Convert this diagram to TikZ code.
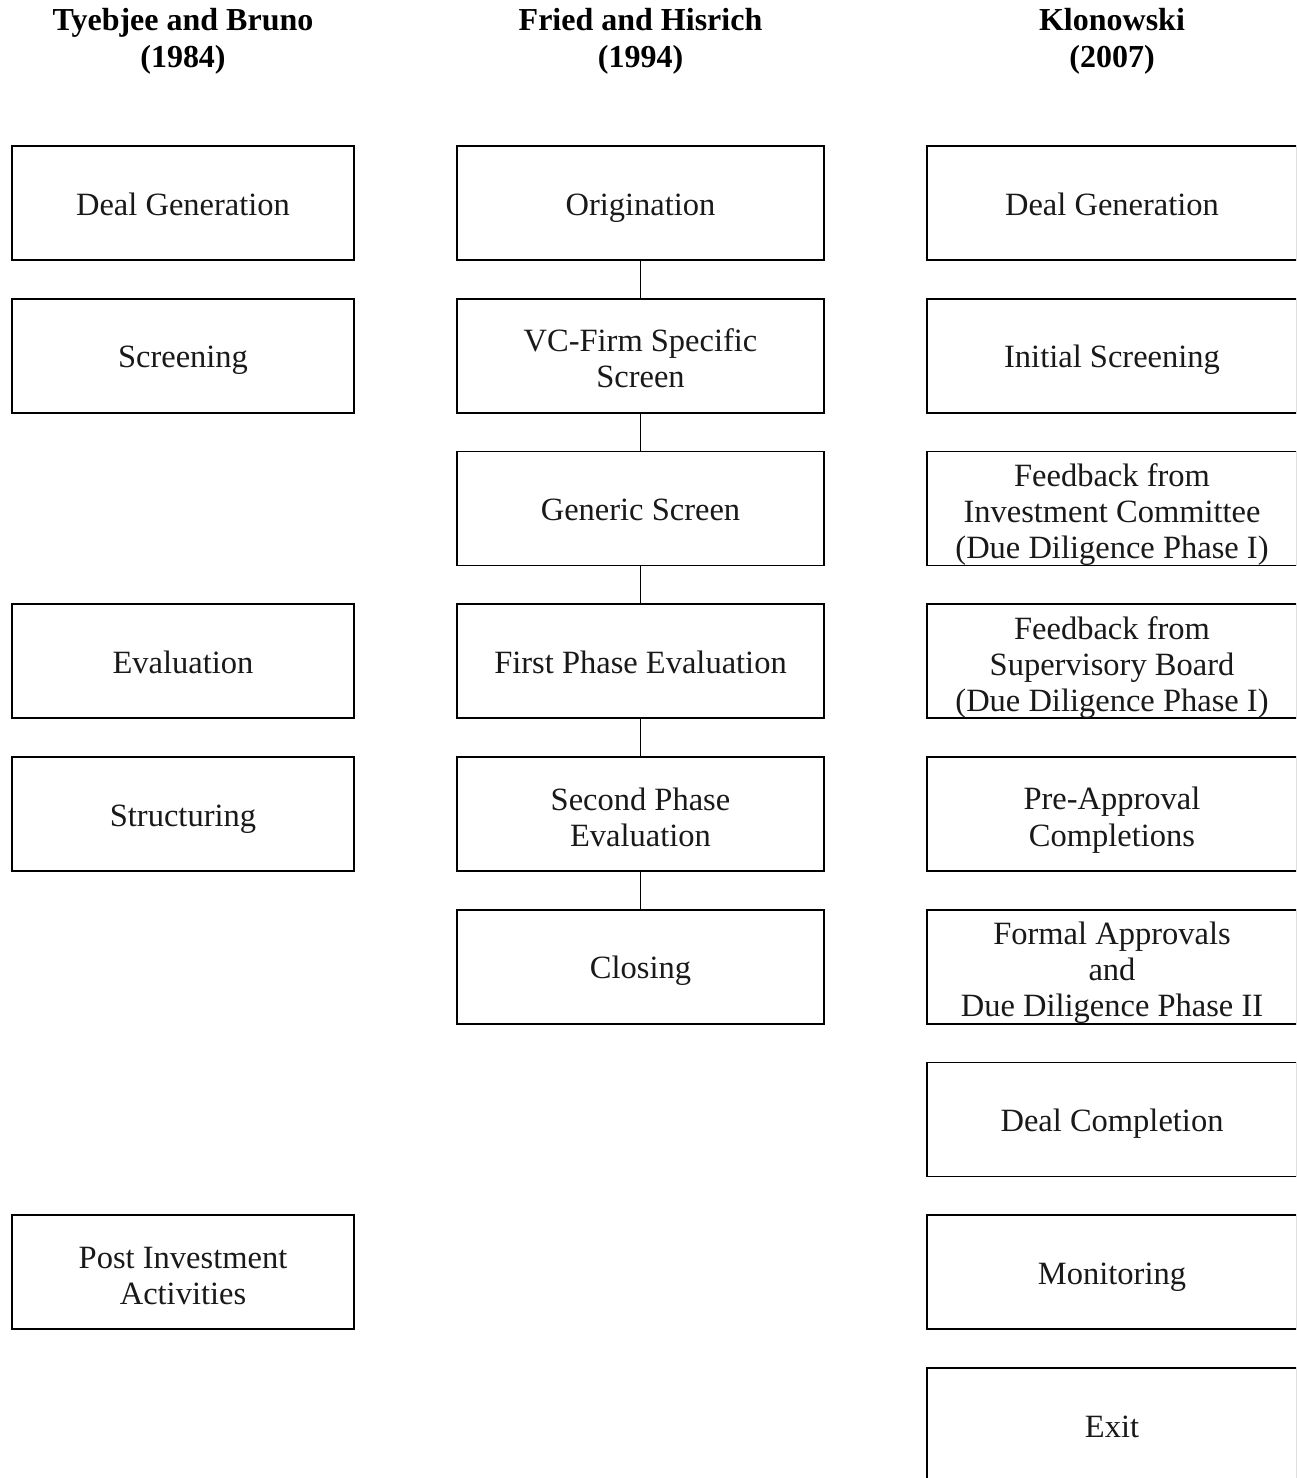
\documentclass[tikz,border=0pt]{standalone}
\usepackage{fontspec}
\setmainfont{Liberation Serif}
\newcommand\mlines[2]{\raisebox{-#1}[0pt][0pt]{\begin{tabular}{@{}c@{}}#2\end{tabular}}}
\begin{document}
\begin{tikzpicture}[x=1pt,y=-1pt,
  box/.style={draw=black, line width=1.6pt, rectangle, minimum height=114pt, inner sep=0pt, align=center,
    font=\fontsize{32.5}{36.2}\selectfont, text=black!90},
  one/.style={text height=28pt, text depth=4pt},
  lbox/.style={box, minimum width=342pt},
  mbox/.style={box, minimum width=367pt},
  rbox/.style={box, minimum width=370pt},
  head/.style={align=center, inner sep=0pt, font=\bfseries\fontsize{32}{37}\selectfont},
  link/.style={line width=1.6pt}]
\clip (0,0) rectangle (1296,1478);
\fill[white] (0,0) rectangle (1296,1478);
% headers
\node[head] (h1) at (183,41) {Tyebjee and Bruno\\(1984)};
\node[head] (h2) at (640.5,41) {Fried and Hisrich\\(1994)};
\node[head] (h3) at (1112,41) {Klonowski\\(2007)};
% left column
\node[lbox,one] (l1) at (183,203) {Deal Generation};
\node[lbox,one] (l2) at (183,355.75) {Screening};
\node[lbox,one] (l4) at (183,661.25) {Evaluation};
\node[lbox,one] (l5) at (183,814) {Structuring};
\node[lbox] (l8) at (183,1272.25) {\mlines{13.5pt}{Post Investment\\Activities}};
% middle column
\node[mbox,one] (m1) at (640.5,203) {Origination};
\node[mbox] (m2) at (640.5,355.75) {\mlines{13pt}{VC-Firm Specific\\Screen}};
\node[mbox,one] (m3) at (640.5,508.5) {Generic Screen};
\node[mbox,one] (m4) at (640.5,661.25) {First Phase Evaluation};
\node[mbox] (m5) at (640.5,814) {\mlines{13.5pt}{Second Phase\\Evaluation}};
\node[mbox,one] (m6) at (640.5,966.75) {Closing};
\draw[link] (m1) -- (m2);
\draw[link] (m2) -- (m3);
\draw[link] (m3) -- (m4);
\draw[link] (m4) -- (m5);
\draw[link] (m5) -- (m6);
% right column
\node[rbox,one] (r1) at (1112,203) {Deal Generation};
\node[rbox,one] (r2) at (1112,355.75) {Initial Screening};
\node[rbox] (r3) at (1112,508.5) {\mlines{13pt}{Feedback from\\Investment Committee\\(Due Diligence Phase I)}};
\node[rbox] (r4) at (1112,661.25) {\mlines{13pt}{Feedback from\\Supervisory Board\\(Due Diligence Phase I)}};
\node[rbox] (r5) at (1112,814) {\mlines{13pt}{Pre-Approval\\Completions}};
\node[rbox] (r6) at (1112,966.75) {\mlines{13pt}{Formal Approvals\\and\\Due Diligence Phase II}};
\node[rbox,one] (r7) at (1112,1119.5) {Deal Completion};
\node[rbox,one] (r8) at (1112,1272.25) {Monitoring};
\node[rbox,one] (r9) at (1112,1425) {Exit};
\end{tikzpicture}
\end{document}
